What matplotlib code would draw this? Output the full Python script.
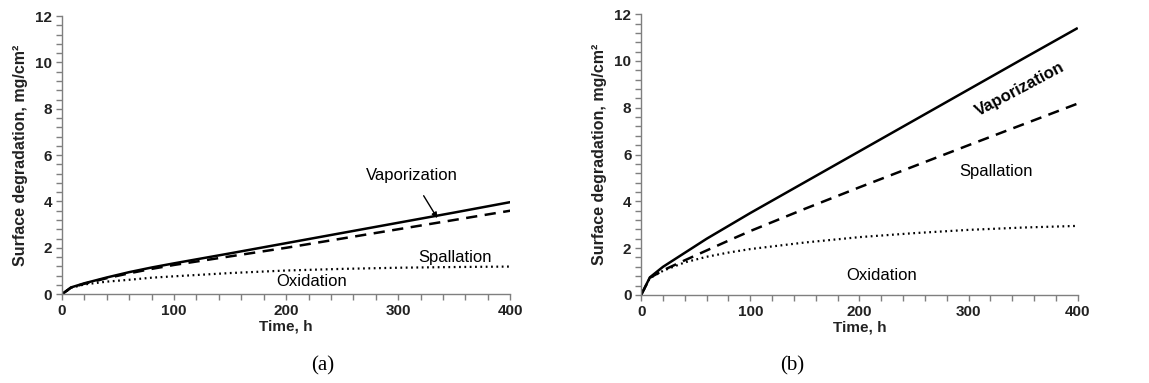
import matplotlib
matplotlib.use('Agg')
import matplotlib.pyplot as plt
from matplotlib.ticker import MultipleLocator

# time points, h
t = [0, 8, 20, 40, 60, 80, 100, 150, 200, 250, 300, 350, 400]

# panel (a)
vap_a = [0, 0.29, 0.47, 0.72, 0.95, 1.15, 1.33, 1.76, 2.2, 2.64, 3.08, 3.52, 3.97]
spal_a = [0, 0.28, 0.45, 0.69, 0.9, 1.09, 1.26, 1.63, 2.0, 2.4, 2.8, 3.2, 3.6]
oxid_a = [0, 0.27, 0.42, 0.54, 0.62, 0.71, 0.77, 0.91, 1.02, 1.09, 1.14, 1.17, 1.19]

# panel (b)
vap_b = [0, 0.75, 1.2, 1.8, 2.4, 2.95, 3.5, 4.82, 6.14, 7.46, 8.78, 10.1, 11.41]
spal_b = [0, 0.73, 1.05, 1.48, 1.9, 2.32, 2.73, 3.68, 4.6, 5.5, 6.4, 7.29, 8.18]
oxid_b = [0, 0.72, 1.03, 1.39, 1.63, 1.81, 1.96, 2.24, 2.47, 2.64, 2.78, 2.88, 2.95]

plt.rcParams['font.family'] = ['Liberation Sans', 'DejaVu Sans']
grey = '#7f7f7f'
dark = '#222222'

fig = plt.figure(figsize=(11.49, 3.83), dpi=100)
ax_a = fig.add_axes([0.054, 0.232, 0.390, 0.726])
ax_b = fig.add_axes([0.558, 0.230, 0.380, 0.733])


def style(ax):
    ax.set_xlim(0, 400)
    ax.set_ylim(0, 12)
    ax.xaxis.set_major_locator(MultipleLocator(100))
    ax.xaxis.set_minor_locator(MultipleLocator(20))
    ax.yaxis.set_major_locator(MultipleLocator(2))
    ax.yaxis.set_minor_locator(MultipleLocator(0.4))
    for s in ['top', 'right']:
        ax.spines[s].set_visible(False)
    for s in ['left', 'bottom']:
        ax.spines[s].set_color(grey)
        ax.spines[s].set_linewidth(1.0)
    ax.tick_params(which='both', direction='out', color=grey, width=1.0, length=4,
                   labelsize=11, pad=3)
    for lab in ax.get_xticklabels() + ax.get_yticklabels():
        lab.set_fontweight('bold')
        lab.set_color(dark)
    ax.set_xlabel('Time, h', fontsize=11, fontweight='bold', color=dark, labelpad=1)
    ax.set_ylabel('Surface degradation, mg/cm²', fontsize=11.5, fontweight='bold',
                  color=dark, labelpad=5)


for ax, v, s, o in [(ax_a, vap_a, spal_a, oxid_a), (ax_b, vap_b, spal_b, oxid_b)]:
    ax.plot(t, v, color='black', lw=1.8, solid_capstyle='butt')
    ax.plot(t, s, color='black', lw=1.8, linestyle=(0, (4.5, 3)))
    ax.plot(t, o, color='black', lw=1.6, linestyle=(0, (0.8, 1.6)))
    style(ax)

# annotations panel (a)
ax_a.annotate('Vaporization', xy=(335, 3.28), xytext=(312, 5.1), fontsize=12,
              ha='center', va='center',
              arrowprops=dict(arrowstyle='-|>', color='black', lw=1.0,
                              mutation_scale=8, shrinkA=8, shrinkB=0))
ax_a.text(351, 1.56, 'Spallation', fontsize=12, ha='center', va='center')
ax_a.text(223, 0.56, 'Oxidation', fontsize=12, ha='center', va='center')

# annotations panel (b)
ax_b.text(347, 8.8, 'Vaporization', fontsize=12, fontweight='bold', ha='center',
          va='center', rotation=28)
ax_b.text(325, 5.26, 'Spallation', fontsize=12, ha='center', va='center')
ax_b.text(220, 0.83, 'Oxidation', fontsize=12, ha='center', va='center')

fig.text(323 / 1149, 1 - 366 / 383, '(a)', fontsize=15, family='Liberation Serif',
         ha='center', va='center')
fig.text(792 / 1149, 1 - 366 / 383, '(b)', fontsize=15, family='Liberation Serif',
         ha='center', va='center')

fig.savefig('out.png', dpi=100)
